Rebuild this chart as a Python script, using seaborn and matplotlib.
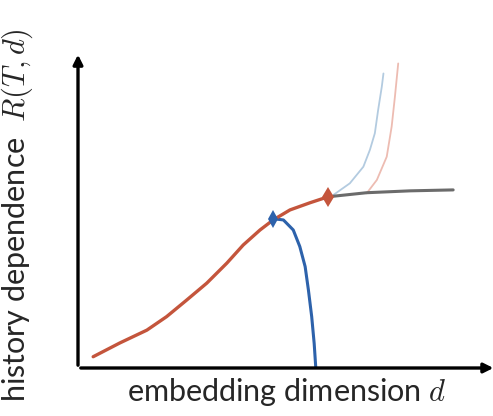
import matplotlib
matplotlib.use("Agg")
import matplotlib.pyplot as plt
import seaborn as sns

# schematic curves (arbitrary units, axes 0..10)
red_x = [0.37, 1.02, 1.68, 2.16, 2.65, 3.14, 3.63, 4.03, 4.44, 4.76, 5.17, 5.66, 6.10]
red_y = [0.36, 0.80, 1.21, 1.64, 2.17, 2.71, 3.35, 3.93, 4.41, 4.73, 5.05, 5.28, 5.47]

gray_x = [6.10, 7.04, 8.10, 9.15]
gray_y = [5.47, 5.60, 5.66, 5.69]

blue_x = [4.76, 5.01, 5.25, 5.41, 5.54, 5.62, 5.70, 5.76, 5.80]
blue_y = [4.77, 4.73, 4.41, 3.88, 3.24, 2.49, 1.64, 0.79, 0.0]

lblue_x = [6.23, 6.63, 6.96, 7.12, 7.24, 7.32, 7.41, 7.45]
lblue_y = [5.53, 5.90, 6.43, 6.97, 7.50, 8.24, 8.99, 9.41]

lred_x = [7.04, 7.29, 7.53, 7.65, 7.73, 7.81]
lred_y = [5.58, 6.01, 6.75, 7.71, 8.67, 9.73]

red = "#c4553c"
blue = "#2d62ab"
gray = "#6b6b6b"

sns.set_style("white")
plt.rcParams["font.family"] = ["Lato", "DejaVu Sans"]
plt.rcParams["mathtext.fontset"] = "cm"

fig = plt.figure(figsize=(4.93, 4.16), dpi=100)
ax = fig.add_axes([78 / 493, 48 / 416, 410 / 493, 313 / 416])

sns.lineplot(x=lblue_x, y=lblue_y, ax=ax, color="#b3cbe0", lw=1.3, sort=False)
sns.lineplot(x=lred_x, y=lred_y, ax=ax, color="#edbcb2", lw=1.3, sort=False)
sns.lineplot(x=gray_x, y=gray_y, ax=ax, color=gray, lw=2.2, sort=False)
sns.lineplot(x=blue_x, y=blue_y, ax=ax, color=blue, lw=2.2, sort=False)
sns.lineplot(x=red_x, y=red_y, ax=ax, color=red, lw=2.4, sort=False)

ax.plot(red_x[-1], red_y[-1], marker="d", color=red, ms=10, mew=0)
ax.plot(blue_x[0], blue_y[0], marker="d", color=blue, ms=9, mew=0)

ax.set_xlim(0, 10)
ax.set_ylim(0, 10)
ax.set_xticks([])
ax.set_yticks([])
for s in ax.spines.values():
    s.set_visible(False)

arrow = dict(arrowstyle="-|>", color="black", lw=2.4, mutation_scale=14)
ax.annotate("", xy=(1.02, 0), xytext=(0, 0), xycoords="axes fraction",
            textcoords="axes fraction", arrowprops=arrow, annotation_clip=False)
ax.annotate("", xy=(0, 1.01), xytext=(0, 0), xycoords="axes fraction",
            textcoords="axes fraction", arrowprops=arrow, annotation_clip=False)

ax.set_xlabel(r"embedding dimension $d$", fontsize=22, color="#262626")
ax.xaxis.set_label_coords(0.51, -0.025)
ax.set_ylabel(r"history dependence  $R(T,d)$", fontsize=22, color="#262626")
ax.yaxis.set_label_coords(-0.105, 0.49)

fig.savefig("out.png", dpi=100, facecolor="white")
